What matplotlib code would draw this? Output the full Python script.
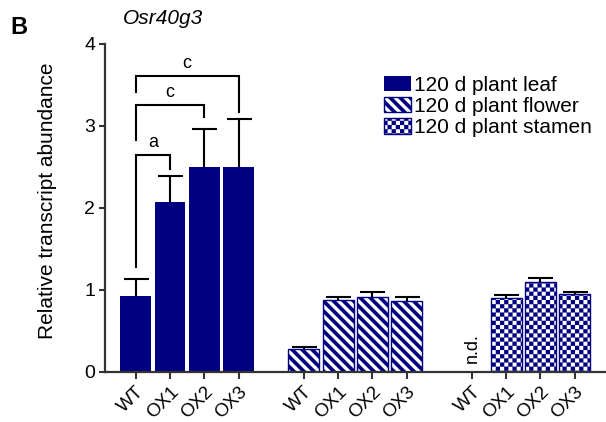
import warnings
import numpy as np
import matplotlib
matplotlib.use("Agg")
import matplotlib.pyplot as plt
import matplotlib.hatch as mhatch
from matplotlib.path import Path

warnings.filterwarnings("ignore")

# data
genotypes = ["WT", "OX1", "OX2", "OX3"]
series = ["120 d plant leaf", "120 d plant flower", "120 d plant stamen"]
leaf = [0.93, 2.07, 2.50, 2.50]
leaf_err = [0.20, 0.32, 0.46, 0.59]
flower = [0.28, 0.88, 0.92, 0.86]
flower_err = [0.02, 0.04, 0.05, 0.05]
stamen = [np.nan, 0.90, 1.10, 0.95]
stamen_err = [0.0, 0.035, 0.05, 0.03]

# significance brackets: (left bar, right bar, top, left foot, right foot, label)
brackets = [(0, 1, 2.65, 1.28, 2.48, "a"),
            (0, 2, 3.26, 2.83, 3.11, "c"),
            (0, 3, 3.61, 3.41, 3.17, "c")]

navy = "#000080"


# filled hatch patterns (stripes and checkerboard) for the flower/stamen bars
class StripeHatch(mhatch.HatchPatternBase):
    def __init__(self, hatch, density):
        self.n = 10 if "s" in hatch else 0
        self.num_vertices = 2 * self.n * 5 if self.n else 0

    def set_vertices_and_codes(self, vertices, codes):
        n, w = self.n, 0.5
        i = 0
        for k in range(-n, n):
            x0 = k / n
            pts = [(x0, 1), (x0 + w / n, 1), (x0 + w / n + 1, 0), (x0 + 1, 0), (x0, 1)]
            vertices[i:i + 5] = pts
            codes[i:i + 5] = [Path.MOVETO, Path.LINETO, Path.LINETO, Path.LINETO, Path.CLOSEPOLY]
            i += 5


class CheckerHatch(mhatch.HatchPatternBase):
    def __init__(self, hatch, density):
        self.n = 24 if "c" in hatch else 0
        self.num_vertices = (self.n * self.n // 2) * 5 if self.n else 0

    def set_vertices_and_codes(self, vertices, codes):
        n = self.n
        s = 1.0 / n
        i = 0
        for a in range(n):
            for b in range(n):
                if (a + b) % 2:
                    continue
                x, y = a * s, b * s
                vertices[i:i + 5] = [(x, y), (x + s, y), (x + s, y + s), (x, y + s), (x, y)]
                codes[i:i + 5] = [Path.MOVETO, Path.LINETO, Path.LINETO, Path.LINETO, Path.CLOSEPOLY]
                i += 5


mhatch._hatch_types.extend([StripeHatch, CheckerHatch])

plt.rcParams["font.family"] = ["Liberation Sans", "DejaVu Sans"]
plt.rcParams["hatch.linewidth"] = 0.1
plt.rcParams["hatch.color"] = navy

fig = plt.figure(figsize=(6.06, 4.22), dpi=100)
ax = fig.add_axes([105 / 606, 1 - 372 / 422, 501 / 606, 328 / 422])

group_gap = 4.9
x = np.arange(len(genotypes))
width = 0.9
ekw = dict(ecolor="black", elinewidth=1.5, capsize=9, capthick=1.5)

containers = []
containers.append(ax.bar(x, leaf, width, color=navy, edgecolor="none", label=series[0],
                         yerr=[np.zeros(4), leaf_err], error_kw=ekw))
containers.append(ax.bar(x + group_gap, flower, width, color="white", edgecolor=navy,
                         linewidth=1.0, hatch="s", label=series[1],
                         yerr=[np.zeros(4), flower_err], error_kw=ekw))
st = np.array(stamen)
ok = ~np.isnan(st)
containers.append(ax.bar((x + 2 * group_gap)[ok], st[ok], width, color="white", edgecolor=navy,
                         linewidth=1.0, hatch="c", label=series[2],
                         yerr=[np.zeros(ok.sum()), np.array(stamen_err)[ok]], error_kw=ekw))
# only the upper half of each error bar is shown
for bc in containers:
    bc.errorbar.lines[1][0].set_visible(False)

ax.text(2 * group_gap, 0.11, "n.d.", rotation=90, ha="center", va="bottom", fontsize=13)

for l, r, top, yl, yr, lab in brackets:
    ax.plot([x[l], x[l], x[r], x[r]], [yl, top, top, yr], color="black", lw=1.5,
            solid_joinstyle="miter", clip_on=False)
    ax.text((x[l] + x[r]) / 2, top + 0.05, lab, ha="center", va="bottom", fontsize=13)

ticks = np.concatenate([x, x + group_gap, x + 2 * group_gap])
ax.set_xticks(ticks)
ax.set_xticklabels(genotypes * 3, rotation=45, ha="right", rotation_mode="anchor", fontsize=13.5)
ax.set_xlim(-0.895, 13.71)
ax.set_ylim(0, 4)
ax.set_yticks([0, 1, 2, 3, 4])
ax.tick_params(axis="y", labelsize=14, length=4, width=1.5, color="#333333", pad=3)
ax.tick_params(axis="x", length=5, width=1.5, color="#333333", pad=3)
for side in ["top", "right"]:
    ax.spines[side].set_visible(False)
for side in ["left", "bottom"]:
    ax.spines[side].set_linewidth(1.6)
    ax.spines[side].set_color("#333333")

ax.legend(loc="upper left", bbox_to_anchor=(384 / 606, 1 - 76 / 422),
          bbox_transform=fig.transFigure, frameon=False, fontsize=15,
          handlelength=1.3, handleheight=0.75, handletextpad=0.15,
          labelspacing=0.1, borderpad=0, borderaxespad=0)

fig.text(48 / 606, 1 - 201 / 422, "Relative transcript abundance", rotation=90,
         ha="center", va="center", fontsize=15)
fig.text(163 / 606, 1 - 19 / 422, "Osr40g3", style="italic", ha="center", va="center", fontsize=15)
fig.text(10 / 606, 1 - 27 / 422, "B", weight="bold", ha="left", va="center", fontsize=17)

fig.savefig("out.png", dpi=100)
